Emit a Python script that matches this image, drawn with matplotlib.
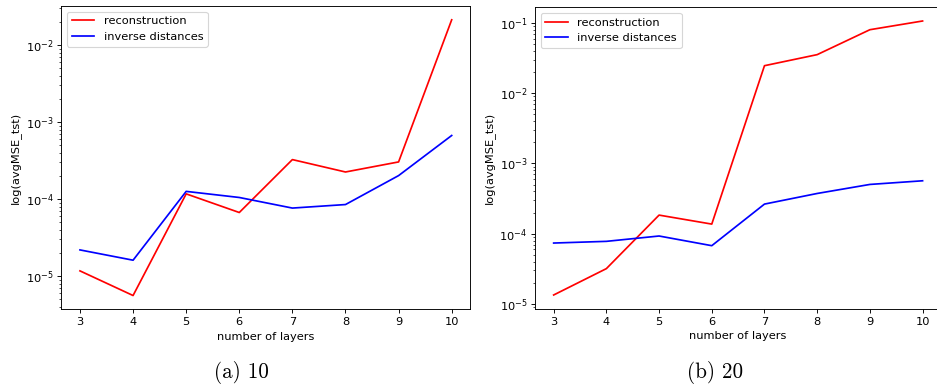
import matplotlib
matplotlib.use("Agg")
import matplotlib.pyplot as plt

layers = [3, 4, 5, 6, 7, 8, 9, 10]

# panel (a) 10
recon_a = [1.17e-5, 5.6e-6, 1.17e-4, 6.7e-5, 3.26e-4, 2.25e-4, 3.04e-4, 2.13e-2]
invd_a = [2.19e-5, 1.61e-5, 1.26e-4, 1.05e-4, 7.65e-5, 8.5e-5, 2.02e-4, 6.7e-4]

# panel (b) 20
recon_b = [1.34e-5, 3.18e-5, 1.84e-4, 1.37e-4, 2.47e-2, 3.55e-2, 8.04e-2, 1.07e-1]
invd_b = [7.36e-5, 7.78e-5, 9.27e-5, 6.75e-5, 2.64e-4, 3.74e-4, 5.03e-4, 5.67e-4]

captions = ["(a) 10", "(b) 20"]
legend_labels = ["reconstruction", "inverse distances"]

DPI = 82
fig = plt.figure(figsize=(937 / DPI, 390 / DPI), dpi=DPI)

ax1 = fig.add_axes([0.0655, 0.2069, 0.4364, 0.7777])
ax2 = fig.add_axes([0.5712, 0.2085, 0.4331, 0.7728])

for ax, r, d in [(ax1, recon_a, invd_a), (ax2, recon_b, invd_b)]:
    ax.plot(layers, r, color="red", label=legend_labels[0])
    ax.plot(layers, d, color="blue", label=legend_labels[1])
    ax.set_yscale("log")
    ax.set_xlabel("number of layers")
    ax.set_ylabel("log(avgMSE_tst)")
    ax.legend(loc="upper left")

fig.text(241 / 937, 1 - 372 / 390, captions[0], family="cmr10", fontsize=18.5,
         ha="center", va="center")
fig.text(715.5 / 937, 1 - 372 / 390, captions[1], family="cmr10", fontsize=18.5,
         ha="center", va="center")

fig.savefig("out.png", dpi=DPI)
